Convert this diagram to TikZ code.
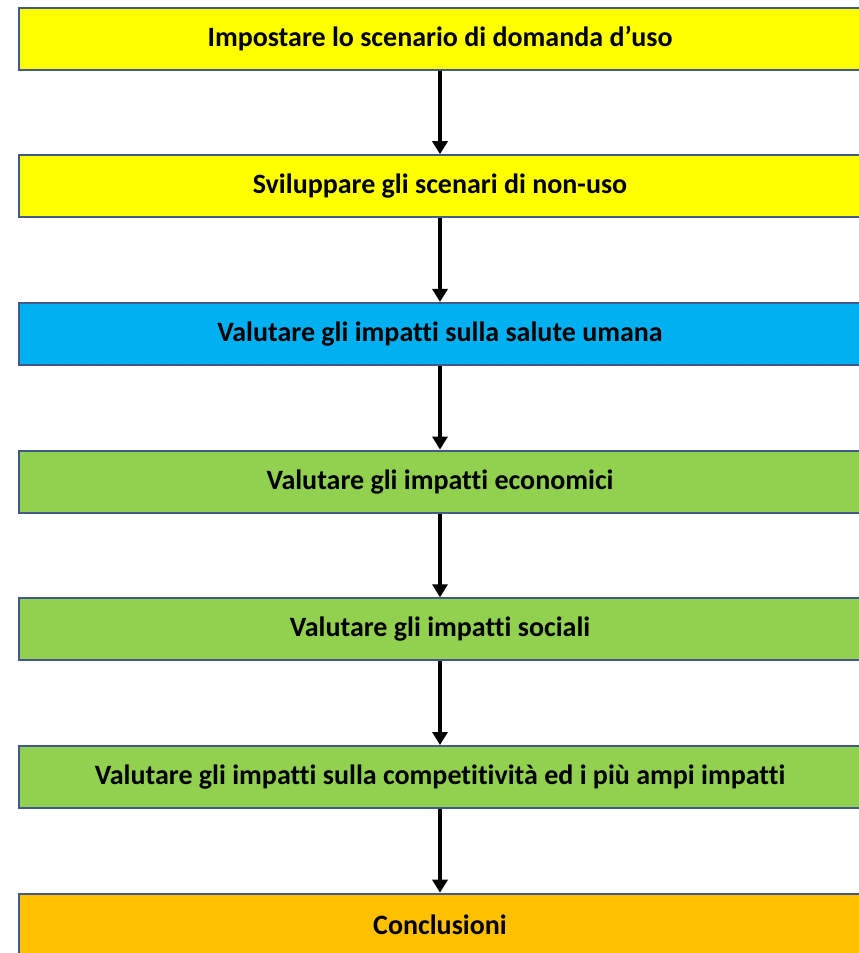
\documentclass[tikz,border=0pt]{standalone}
\usepackage{fontspec}
\setmainfont{Carlito}[Ligatures=NoCommon]
\usetikzlibrary{arrows.meta}
\definecolor{edgeblue}{HTML}{41598B}
\definecolor{stepyellow}{HTML}{FFFF00}
\definecolor{stepblue}{HTML}{00B0F0}
\definecolor{stepgreen}{HTML}{92D050}
\definecolor{steporange}{HTML}{FFC000}
\begin{document}
\begin{tikzpicture}[
  >={Triangle[width=15pt,length=13pt]},
  stagebox/.style={
    draw=edgeblue,
    line width=2pt,
    minimum width=842pt,
    minimum height=62pt,
    inner sep=0pt,
    font=\fontsize{28}{32}\selectfont\bfseries
  },
  scen/.style={stagebox, fill=stepyellow},
  health/.style={stagebox, fill=stepblue},
  impact/.style={stagebox, fill=stepgreen},
  concl/.style={stagebox, fill=steporange},
  flow/.style={->, line width=3.4pt}
]
\clip (0pt,0pt) rectangle (859pt,-953pt);
\node[scen]   (uso)     at (440pt,-38.5pt) {Impostare lo scenario di domanda d’uso};
\node[scen]   (nonuso)  at (440pt,-186.2pt) {Sviluppare gli scenari di non-uso};
\node[health] (salute)  at (440pt,-333.9pt) {Valutare gli impatti sulla salute umana};
\node[impact] (econ)    at (440pt,-481.6pt) {Valutare gli impatti economici};
\node[impact] (sociali) at (440pt,-629.3pt) {Valutare gli impatti sociali};
\node[impact] (compet)  at (440pt,-777pt) {Valutare gli impatti sulla competitività ed i più ampi impatti};
\node[concl]  (concl)   at (440pt,-924.7pt) {Conclusioni};

\draw[flow] (uso) -- (nonuso);
\draw[flow] (nonuso) -- (salute);
\draw[flow] (salute) -- (econ);
\draw[flow] (econ) -- (sociali);
\draw[flow] (sociali) -- (compet);
\draw[flow] (compet) -- (concl);
\end{tikzpicture}
\end{document}
